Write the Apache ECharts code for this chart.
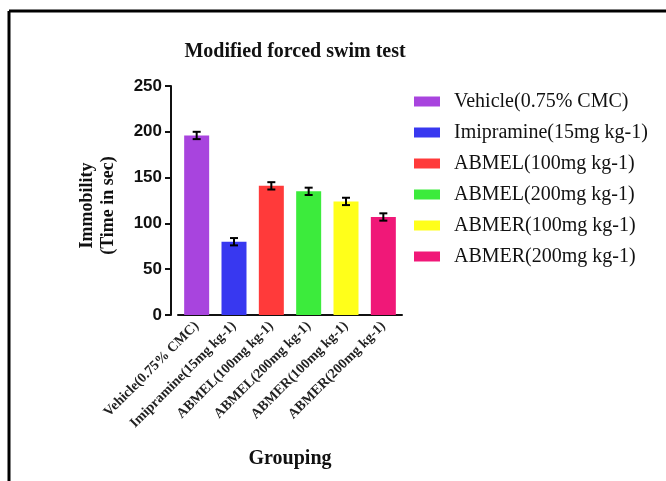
<!DOCTYPE html>
<html>
<head>
<meta charset="utf-8">
<script src="https://cdn.jsdelivr.net/npm/echarts@6/dist/echarts.min.js"></script>
<style>
  html, body { margin: 0; padding: 0; background: #fff; }
  #chart { width: 666px; height: 481px; }
</style>
</head>
<body>
<div id="chart"></div>
<script>
// groups and read-off values (mean, +/- error)
const groups = ['Vehicle(0.75% CMC)', 'Imipramine(15mg kg-1)', 'ABMEL(100mg kg-1)',
    'ABMEL(200mg kg-1)', 'ABMER(100mg kg-1)', 'ABMER(200mg kg-1)'];
const means = [196, 80, 141, 135, 124, 107];
const errors = [4, 4, 4, 4, 4, 4];
const colors = ['#A844DE', '#3838F0', '#FF3A3A', '#3CEB3C', '#FFFF1A', '#F01878'];
const yTicks = [0, 50, 100, 150, 200, 250];

let chart = echarts.init(document.getElementById('chart'));

let serif = '"Liberation Serif", "DejaVu Serif", serif';

// one series per group so the legend gets one entry each
let barSeries = groups.map(function (g, i) {
    return {
        name: g,
        type: 'bar',
        stack: 'all',
        barWidth: 25,
        itemStyle: { color: colors[i] },
        data: groups.map(function (_, j) { return j === i ? means[i] : '-'; })
    };
});

let errData = means.map(function (m, i) { return [i, m - errors[i], m + errors[i]]; });

let errorSeries = {
    type: 'custom',
    name: 'err',
    z: 10,
    data: errData,
    renderItem: function (params, api) {
        let x = api.value(0);
        let lo = api.coord([x, api.value(1)]);
        let hi = api.coord([x, api.value(2)]);
        let half = 4;
        let st = { stroke: '#000', lineWidth: 2 };
        return {
            type: 'group',
            children: [
                { type: 'line', shape: { x1: hi[0], y1: hi[1], x2: lo[0], y2: lo[1] }, style: st },
                { type: 'line', shape: { x1: hi[0] - half, y1: hi[1], x2: hi[0] + half, y2: hi[1] }, style: st },
                { type: 'line', shape: { x1: lo[0] - half, y1: lo[1], x2: lo[0] + half, y2: lo[1] }, style: st }
            ]
        };
    }
};

let option = {
    animation: false,
    backgroundColor: '#fff',
    title: {
        text: 'Modified forced swim test',
        left: 290,
        textAlign: 'center',
        top: 37,
        textStyle: { fontFamily: serif, fontSize: 20, fontWeight: 'bold', color: '#111' }
    },
    legend: {
        data: groups,
        orient: 'vertical',
        left: 414,
        top: 91,
        padding: 0,
        itemWidth: 26,
        itemHeight: 10,
        itemGap: 10,
        icon: 'rect',
        textStyle: { fontFamily: serif, fontSize: 20, color: '#111', lineHeight: 21, padding: [0, 0, 0, 9] }
    },
    grid: { left: 178, right: 264, top: 86, bottom: 166 },
    xAxis: {
        type: 'category',
        data: groups,
        name: 'Grouping',
        nameLocation: 'middle',
        nameGap: 134,
        nameTextStyle: { fontFamily: serif, fontSize: 20, fontWeight: 'bold', color: '#111' },
        axisLine: { lineStyle: { color: '#111', width: 2 } },
        axisTick: { alignWithLabel: true, length: 6, lineStyle: { color: '#111', width: 2 } },
        axisLabel: {
            rotate: 45,
            margin: 9,
            fontFamily: serif,
            fontSize: 14,
            fontWeight: 'bold',
            color: '#222'
        }
    },
    yAxis: {
        type: 'value',
        min: 0,
        max: 250,
        interval: 50,
        offset: 7,
        name: 'Immobility\n(Time in sec)',
        nameLocation: 'middle',
        nameRotate: 90,
        nameGap: 52,
        nameTextStyle: { fontFamily: serif, fontSize: 18, fontWeight: 'bold', color: '#111', lineHeight: 21, padding: [0, 10, 0, 0] },
        splitLine: { show: false },
        axisLine: { show: true, lineStyle: { color: '#111', width: 2 } },
        axisTick: { show: true, length: 6, lineStyle: { color: '#111', width: 2 } },
        axisLabel: {
            margin: 9,
            fontFamily: '"Liberation Sans", Arial, sans-serif',
            fontSize: 17,
            fontWeight: 'bold',
            color: '#111',
            formatter: function (v) { return yTicks.indexOf(v) >= 0 ? String(v) : ''; }
        }
    },
    graphic: [
        { type: 'line', shape: { x1: 9, y1: 11, x2: 666, y2: 11 }, style: { stroke: '#000', lineWidth: 3 } },
        { type: 'line', shape: { x1: 9, y1: 11, x2: 9, y2: 481 }, style: { stroke: '#000', lineWidth: 3 } }
    ],
    series: barSeries.concat([errorSeries])
};

chart.setOption(option);
</script>
</body>
</html>
